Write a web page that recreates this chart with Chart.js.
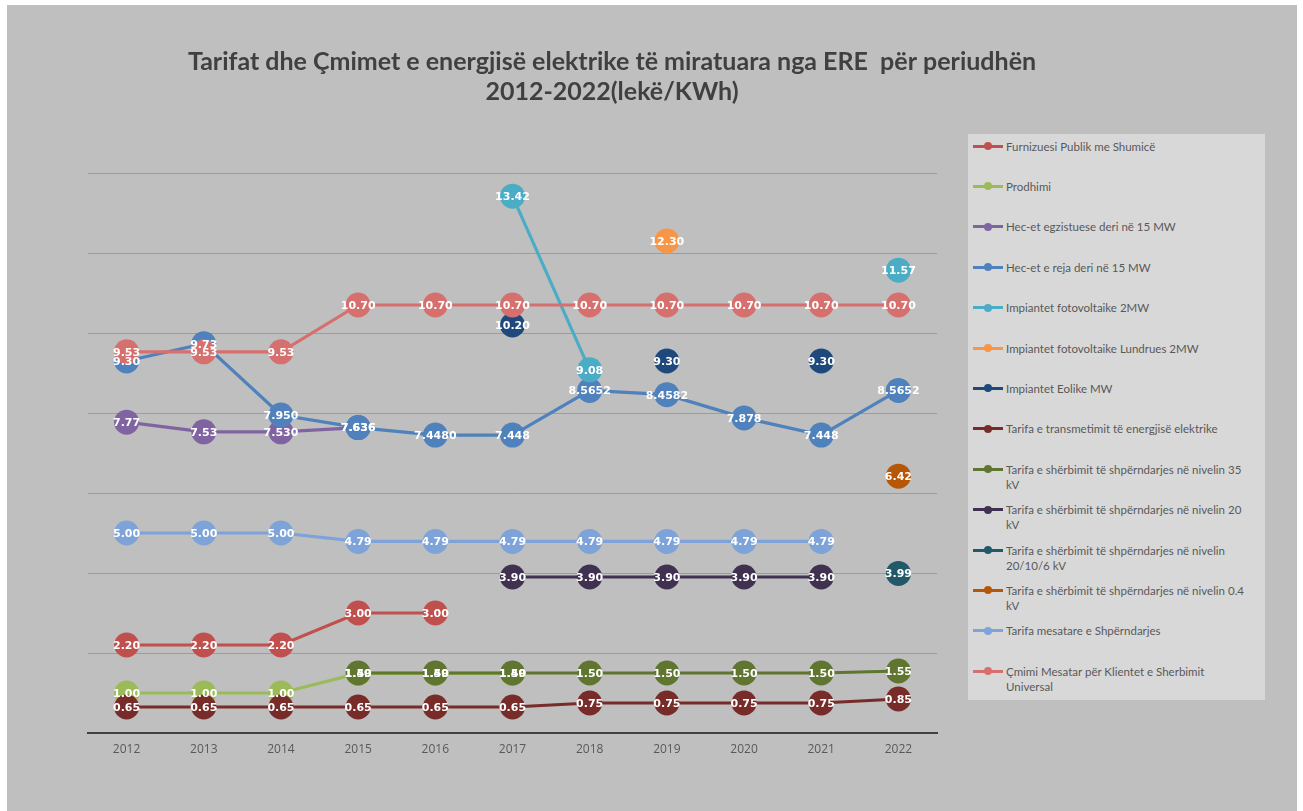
<!DOCTYPE html>
<html>
<head>
<meta charset="utf-8">
<script src="https://cdn.jsdelivr.net/npm/chart.js@4.4.1/dist/chart.umd.min.js"></script>
<style>
  html, body { margin: 0; padding: 0; background: #ffffff; }
  body { width: 1303px; height: 811px; position: relative; overflow: hidden; }
  #bg { position: absolute; left: 7px; top: 5px; width: 1290px; height: 806px; background: #BFBFBF; }
  #wrap { position: absolute; left: 0; top: 0; width: 1303px; height: 811px; }
  #legend { position: absolute; left: 968px; top: 134px; width: 297px; height: 566px; background: #D8D8D8; }
  .item { position: absolute; left: 5px; width: 290px; height: 32px; }
  .mark { position: absolute; left: 0; top: 6px; width: 30px; height: 3px; }
  .dot { position: absolute; left: 11px; top: -2.5px; width: 8px; height: 8px; border-radius: 50%; }
  .txt { position: absolute; left: 33px; top: 0; width: 258px; font-family: Lato, "Open Sans", sans-serif; font-size: 11.5px; line-height: 15px; color: #595959; white-space: pre-line; }
</style>
</head>
<body>
<div id="bg"></div>
<div id="wrap"><canvas id="c" width="1303" height="811"></canvas></div>
<div id="legend"></div>
<script>
const years = ['2012','2013','2014','2015','2016','2017','2018','2019','2020','2021','2022'];

const furnizuesiPublik    = [2.20, 2.20, 2.20, 3.00, 3.00, null, null, null, null, null, null];
const prodhimi            = [1.00, 1.00, 1.00, 1.49, 1.49, 1.49, null, null, null, null, null];
const hecEgzistuese       = [7.77, 7.53, 7.530, 7.636, null, null, null, null, null, null, null];
const hecEgzistueseDec    = [2, 2, 3, 3];
const hecReja             = [9.30, 9.73, 7.950, 7.636, 7.4480, 7.448, 8.5652, 8.4582, 7.878, 7.448, 8.5652];
const hecRejaDec          = [2, 2, 3, 3, 4, 3, 4, 4, 3, 3, 4];
const fotovoltaike        = [null, null, null, null, null, 13.42, 9.08, null, null, null, 11.57];
const fotovoltaikeLundr   = [null, null, null, null, null, null, null, 12.30, null, null, null];
const eolike              = [null, null, null, null, null, 10.20, null, 9.30, null, 9.30, null];
const transmetimi         = [0.65, 0.65, 0.65, 0.65, 0.65, 0.65, 0.75, 0.75, 0.75, 0.75, 0.85];
const shperndarje35       = [null, null, null, 1.50, 1.50, 1.50, 1.50, 1.50, 1.50, 1.50, 1.55];
const shperndarje20       = [null, null, null, null, null, 3.90, 3.90, 3.90, 3.90, 3.90, null];
const shperndarje20106    = [null, null, null, null, null, null, null, null, null, null, 3.99];
const shperndarje04       = [null, null, null, null, null, null, null, null, null, null, 6.42];
const shperndarjeMesatare = [5.00, 5.00, 5.00, 4.79, 4.79, 4.79, 4.79, 4.79, 4.79, 4.79, null];
const cmimiMesatar        = [9.53, 9.53, 9.53, 10.70, 10.70, 10.70, 10.70, 10.70, 10.70, 10.70, 10.70];

const seriesNames = [
  'Furnizuesi Publik me Shumicë',
  'Prodhimi',
  'Hec-et egzistuese deri në 15 MW',
  'Hec-et e reja deri në 15 MW',
  'Impiantet fotovoltaike 2MW',
  'Impiantet fotovoltaike Lundrues 2MW',
  'Impiantet Eolike MW',
  'Tarifa e transmetimit të energjisë elektrike',
  'Tarifa e shërbimit të shpërndarjes në nivelin 35\nkV',
  'Tarifa e shërbimit të shpërndarjes në nivelin 20\nkV',
  'Tarifa e shërbimit të shpërndarjes në nivelin\n20/10/6 kV',
  'Tarifa e shërbimit të shpërndarjes në nivelin 0.4\nkV',
  'Tarifa mesatare e Shpërndarjes',
  'Çmimi Mesatar për Klientet e Sherbimit\nUniversal'
];
const seriesValues = [furnizuesiPublik, prodhimi, hecEgzistuese, hecReja, fotovoltaike, fotovoltaikeLundr, eolike,
  transmetimi, shperndarje35, shperndarje20, shperndarje20106, shperndarje04, shperndarjeMesatare, cmimiMesatar];
const seriesDecimals = [null, null, hecEgzistueseDec, hecRejaDec, null, null, null, null, null, null, null, null, null, null];
const seriesColors = ['#C0504D', '#9BBB59', '#8064A2', '#4F81BD', '#4BACC6', '#F79646', '#1F497D',
  '#772C2A', '#5F7530', '#403151', '#215968', '#B65708', '#7DA3D8', '#D6706E'];

const N = seriesValues.length;
const datasets = seriesValues.map((vals, i) => ({
  label: seriesNames[i].replace('\n', ' '),
  data: vals,
  borderColor: seriesColors[i],
  backgroundColor: seriesColors[i],
  pointBackgroundColor: seriesColors[i],
  pointBorderWidth: 0,
  pointRadius: 12.5,
  pointHoverRadius: 12.5,
  borderWidth: 3.2,
  tension: 0,
  spanGaps: false,
  order: N - i,
  decimals: seriesDecimals[i]
}));

const valueLabels = {
  id: 'valueLabels',
  afterDatasetsDraw(chart) {
    const ctx = chart.ctx;
    ctx.save();
    ctx.font = 'bold 11px "DejaVu Sans", sans-serif';
    ctx.fillStyle = '#ffffff';
    ctx.textAlign = 'center';
    ctx.textBaseline = 'middle';
    chart.data.datasets.forEach((ds, di) => {
      const meta = chart.getDatasetMeta(di);
      meta.data.forEach((pt, j) => {
        const v = ds.data[j];
        if (v === null || v === undefined) return;
        const d = ds.decimals && ds.decimals[j] !== undefined ? ds.decimals[j] : 2;
        ctx.fillText(v.toFixed(d), pt.x, pt.y + 1);
      });
    });
    ctx.restore();
  }
};

new Chart(document.getElementById('c'), {
  type: 'line',
  data: { labels: years, datasets },
  options: {
    responsive: false,
    animation: false,
    events: [],
    layout: { padding: { left: 0, right: 79, top: 0, bottom: 0 } },
    plugins: {
      legend: { display: false },
      tooltip: { enabled: false },
      title: {
        display: true,
        text: ['Tarifat dhe Çmimet e energjisë elektrike të miratuara nga ERE  për periudhën', '2012-2022(lekë/KWh)'],
        color: '#404040',
        font: { family: 'Lato, "Open Sans", sans-serif', size: 25, weight: 'bold', lineHeight: 1.2 },
        padding: { top: 47, bottom: 66 }
      }
    },
    scales: {
      x: {
        offset: true,
        grid: { display: false, drawTicks: false, offset: true },
        border: { display: true, color: '#404040', width: 2 },
        ticks: { color: '#595959', font: { family: '"Open Sans", sans-serif', size: 12 }, padding: 9, maxRotation: 0 },
        afterFit(s) { s.height = 78; }
      },
      y: {
        min: 0, max: 14,
        ticks: { display: false, stepSize: 2 },
        grid: { color: '#9C9C9C', lineWidth: 1, drawTicks: false },
        border: { display: false },
        afterFit(s) { s.width = 88; }
      },
      yR: {
        position: 'right',
        min: 0, max: 14,
        ticks: { display: false },
        grid: { display: false, drawTicks: false },
        border: { display: false },
        afterFit(s) { s.width = 287; }
      }
    }
  },
  plugins: [valueLabels]
});

const legend = document.getElementById('legend');
seriesNames.forEach((name, i) => {
  const it = document.createElement('div');
  it.className = 'item';
  it.style.top = (4.5 + i * 40.4) + 'px';
  const mk = document.createElement('div');
  mk.className = 'mark';
  mk.style.background = seriesColors[i];
  const dot = document.createElement('div');
  dot.className = 'dot';
  dot.style.background = seriesColors[i];
  mk.appendChild(dot);
  const tx = document.createElement('div');
  tx.className = 'txt';
  tx.textContent = name;
  it.appendChild(mk);
  it.appendChild(tx);
  legend.appendChild(it);
});
</script>
</body>
</html>
